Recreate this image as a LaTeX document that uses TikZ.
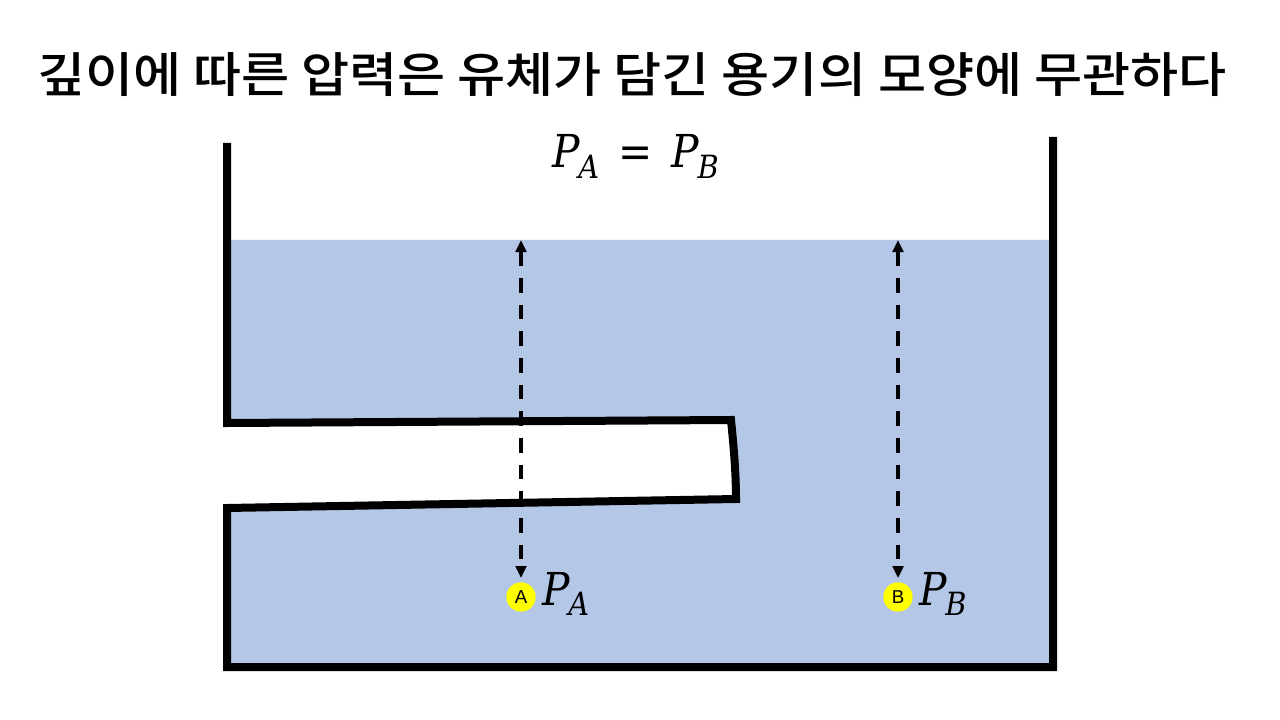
\documentclass[tikz,border=0pt]{standalone}
\usepackage{fontspec}
\setsansfont{Liberation Sans}
\newfontfamily\krfont{Noto Sans CJK KR Medium}[FakeStretch=1.09]
\newfontfamily\mfont{DejaVu Serif Condensed}
\newcommand{\psub}[2]{{\mfont\itshape #1}\kern-0.03em\raisebox{-8pt}{\mfont\itshape\fontsize{24}{26}\selectfont #2}}
\usetikzlibrary{arrows.meta}
\definecolor{waterblue}{RGB}{180,199,231}
\definecolor{ptyellow}{RGB}{255,255,0}
\tikzset{
  water/.style={fill=waterblue},
  wall/.style={line width=6pt, line join=miter, line cap=butt},
  depth/.style={line width=2.6pt, dash pattern=on 11pt off 9pt, {Triangle[length=9pt,width=8pt]}-{Triangle[length=9pt,width=8pt]}, shorten >=3pt},
  pt/.style={circle, fill=ptyellow, minimum size=22pt, inner sep=0pt, font=\sffamily\fontsize{14}{14}\selectfont},
  titletext/.style={font=\krfont\fontsize{36}{40}\selectfont},
  eqtext/.style={font=\mfont\fontsize{34}{36}\selectfont, inner sep=0pt}
}
\begin{document}
\begin{tikzpicture}[x=0.75pt,y=-0.75pt]
\useasboundingbox (0,0) rectangle (1280,720);
% water
\fill[water] (227,240) -- (1053,240) -- (1053,667) -- (227,667) -- (227,508) -- (736,499)
  .. controls (736,470) and (733,440) .. (731,420) -- (227,423) -- cycle;
% container outline
\draw[wall] (227,143) -- (227,423) -- (731,420) .. controls (733,440) and (736,470) .. (736,499)
  -- (227,508) -- (227,667) -- (1053,667) -- (1053,137);
% texts
\node[titletext] (title) at (632,75) {깊이에 따른 압력은 유체가 담긴 용기의 모양에 무관하다};
\node[eqtext, anchor=base west] (eq) at (552,168) {\psub{P}{A}\hspace{0.42em}=\hspace{0.42em}\psub{P}{B}};
% points
\node[pt] (ptA) at (521,597) {A};
\node[pt] (ptB) at (898,597) {B};
\node[eqtext, anchor=base west] (labA) at (542,605) {\psub{P}{A}};
\node[eqtext, anchor=base west] (labB) at (919,605) {\psub{P}{B}};
% depth arrows
\coordinate (sA) at (521,240);
\coordinate (sB) at (898,240);
\draw[depth] (sA) -- (ptA);
\draw[depth] (sB) -- (ptB);
\end{tikzpicture}
\end{document}
